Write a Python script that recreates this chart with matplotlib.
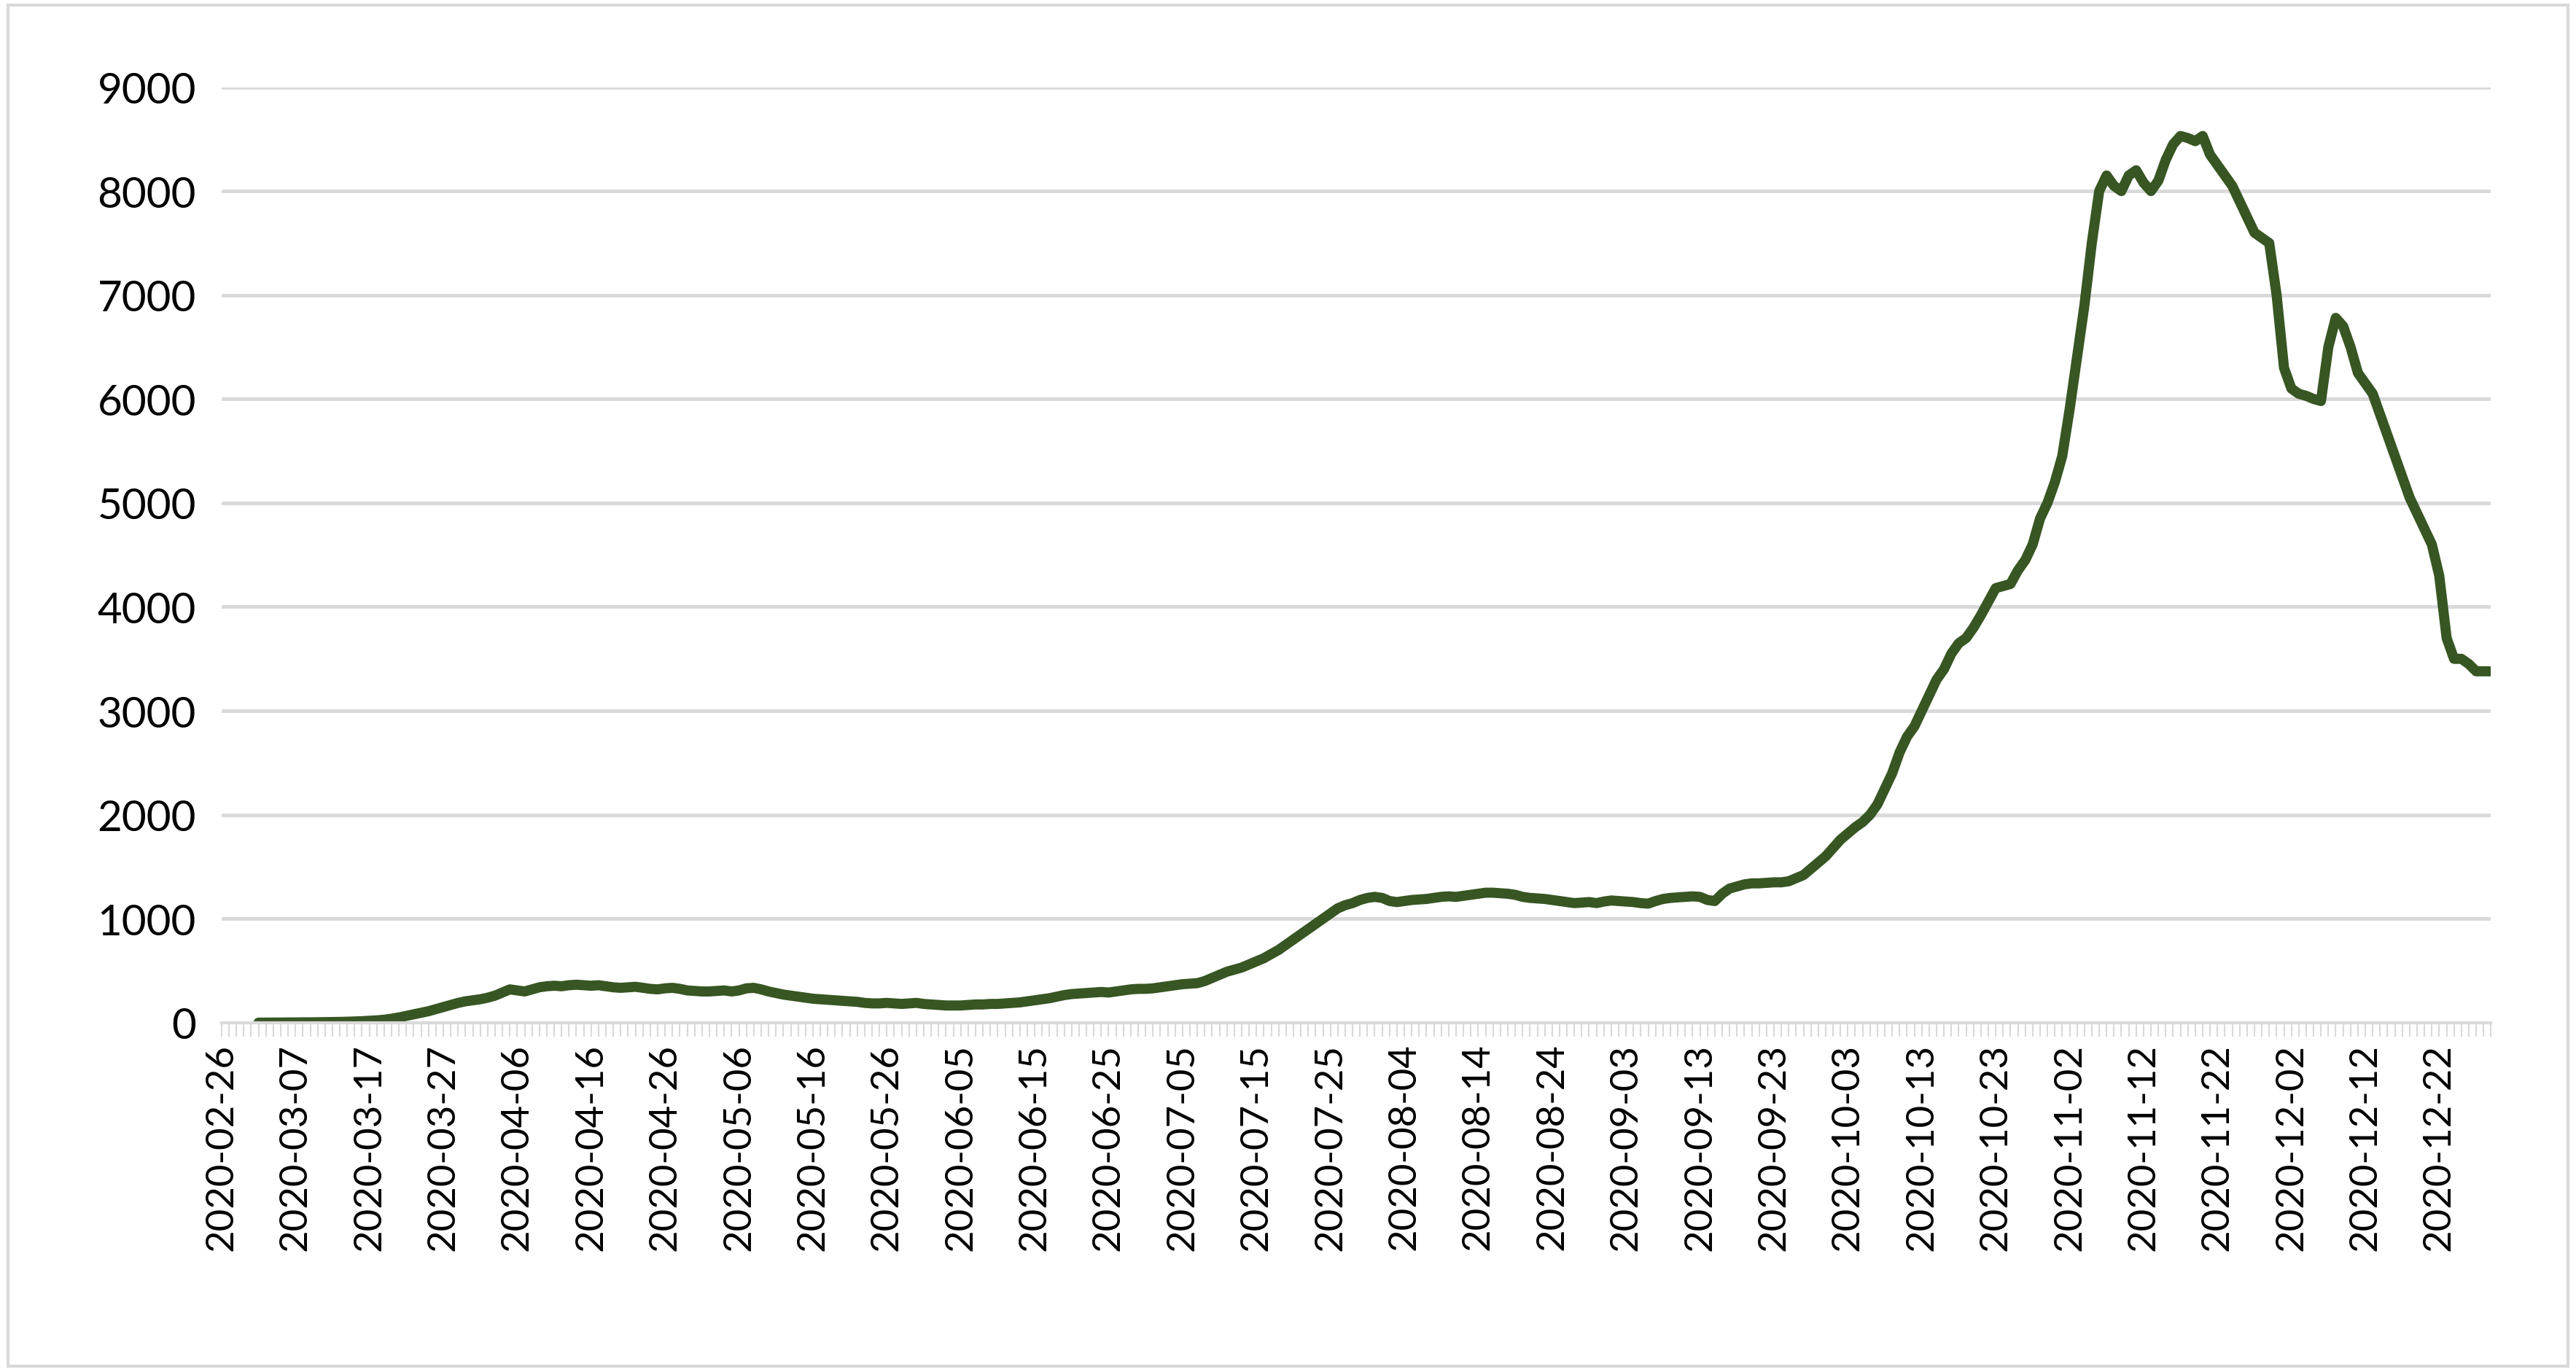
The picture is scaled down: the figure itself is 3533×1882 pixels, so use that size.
import matplotlib
matplotlib.use("Agg")
import matplotlib.pyplot as plt
import matplotlib.dates as mdates
import numpy as np
import datetime as dt

plt.rcParams['font.family'] = ['Lato', 'DejaVu Sans']

start_date = "2020-03-02"
mar = [0,0,1,1,2,2,3,3,4,5,6,7,9,11,14,18,22,28,38,50,65,80,95,110,130,150,170,190,205,215]
apr = [225,240,260,290,320,310,300,320,340,350,355,350,360,365,360,355,360,350,340,335,340,345,335,325,320,330,335,325,310,305]
may = [300,300,305,310,300,310,330,335,320,300,285,270,260,250,240,230,225,220,215,210,205,200,190,185,185,190,185,180,185,190,180]
jun = [175,170,165,165,165,170,175,175,180,180,185,190,195,205,215,225,235,250,265,275,280,285,290,295,290,300,310,320,325,325]
jul = [330,340,350,360,370,375,380,400,430,460,490,510,530,560,590,620,660,700,750,800,850,900,950,1000,1050,1100,1130,1150,1180,1200,1210]
aug = [1200,1170,1160,1170,1180,1185,1190,1200,1210,1215,1210,1220,1230,1240,1250,1250,1245,1240,1230,1210,1200,1195,1190,1180,1170,1160,1150,1155,1160,1150,1165]
sep = [1175,1170,1165,1160,1150,1145,1170,1190,1200,1205,1210,1215,1210,1180,1170,1240,1290,1310,1330,1340,1340,1345,1350,1350,1360,1390,1420,1480,1540,1600]
oct_ = [1680,1760,1820,1880,1930,2000,2100,2250,2400,2600,2750,2850,3000,3150,3300,3400,3550,3650,3700,3800,3920,4050,4180,4200,4220,4350,4450,4600,4850,5000,5200]
nov = [5450,5900,6400,6900,7500,8000,8150,8050,8000,8150,8200,8080,8000,8100,8300,8450,8530,8510,8480,8530,8350,8250,8150,8050,7900,7750,7600,7550,7500,7000]
dec = [6300,6100,6050,6030,6000,5980,6500,6780,6700,6500,6250,6150,6050,5850,5650,5450,5250,5050,4900,4750,4600,4300,3700,3500,3500,3450,3380,3380,3380]

values = mar + apr + may + jun + jul + aug + sep + oct_ + nov + dec
d0 = dt.date.fromisoformat(start_date)
dates = [d0 + dt.timedelta(days=i) for i in range(len(values))]

axis_start = dt.date(2020, 2, 26)
axis_end = dt.date(2020, 12, 29)
tick_dates = [axis_start + dt.timedelta(days=10*i) for i in range(31) if axis_start + dt.timedelta(days=10*i) <= dt.date(2020,12,22)]

fig = plt.figure(figsize=(35.33, 18.83), dpi=100)
ax = fig.add_axes([0.086, 0.2545, 0.881, 0.6815])
ax.plot(dates, values, color="#375623", lw=10, solid_joinstyle="round", solid_capstyle="round")
ax.set_ylim(0, 9000)
ax.set_xlim(axis_start, axis_end)
ax.set_yticks(range(0, 9001, 1000))
ax.yaxis.grid(True, color="#d9d9d9", lw=3.5)
ax.set_axisbelow(True)
ax.set_xticks(tick_dates)
ax.set_xticklabels([d.isoformat() for d in tick_dates], rotation=90)
ax.xaxis.set_minor_locator(mdates.DayLocator())
ax.tick_params(axis="x", which="both", direction="out", color="#d9d9d9", length=14, width=1.5, labelsize=38, labelcolor="#000000", pad=6)
ax.tick_params(axis="y", length=0, labelsize=42, pad=25)
for s in ["top", "right", "left"]:
    ax.spines[s].set_visible(False)
ax.spines["bottom"].set_color("#d9d9d9")
ax.spines["bottom"].set_linewidth(3)
fig.patches.append(plt.Rectangle((0.003, 0.004), 0.994, 0.992, transform=fig.transFigure, fill=False, edgecolor="#d9d9d9", lw=3))
fig.savefig("out.png", dpi=100, facecolor="white")
